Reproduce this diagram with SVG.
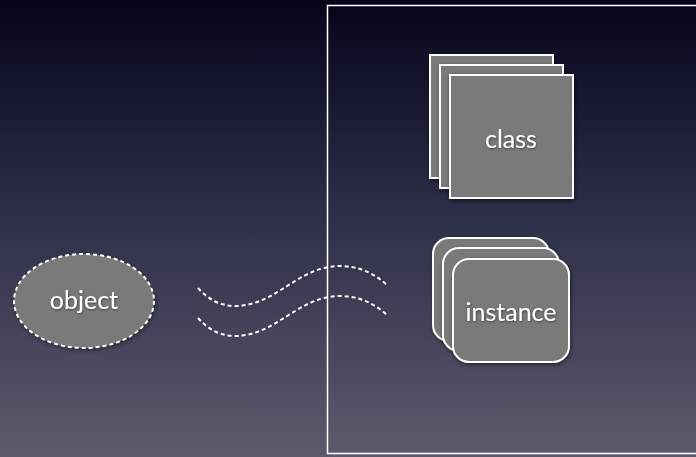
<svg xmlns="http://www.w3.org/2000/svg" width="696" height="457" viewBox="0 0 696 457">
  <defs>
    <linearGradient id="bg" x1="0" y1="0" x2="0" y2="1">
      <stop offset="0" stop-color="#04051a"/>
      <stop offset="0.45" stop-color="#2b2d47"/>
      <stop offset="1" stop-color="#5c5b6d"/>
    </linearGradient>
    <filter id="shadow" x="-20%" y="-20%" width="150%" height="150%">
      <feDropShadow dx="1" dy="2" stdDeviation="2" flood-color="#000" flood-opacity="0.5"/>
    </filter>
    <filter id="tshadow" x="-10%" y="-30%" width="120%" height="160%">
      <feDropShadow dx="0.5" dy="1" stdDeviation="0.8" flood-color="#000" flood-opacity="0.5"/>
    </filter>
  </defs>
  <style>
    .card { fill: #7a7a7a; stroke: #ffffff; stroke-width: 2; filter: url(#shadow); }
    .dash { fill: none; stroke: #ffffff; stroke-width: 2; stroke-dasharray: 4 3; }
    .label { font-family: Lato, "Liberation Sans", sans-serif; font-size: 25px; fill: #ffffff; text-anchor: middle; filter: url(#tshadow); }
  </style>

  <rect x="0" y="0" width="696" height="457" fill="url(#bg)"/>

  <!-- container frame -->
  <rect id="frame" x="327.5" y="5.5" width="372" height="448" fill="none" stroke="#ffffff" stroke-width="1.5"/>

  <!-- class stack -->
  <g id="class">
    <rect class="card" x="430" y="55" width="123" height="123"/>
    <rect class="card" x="440" y="65" width="123" height="123"/>
    <rect class="card" x="450" y="75" width="123" height="123"/>
    <text class="label" x="511" y="148">class</text>
  </g>

  <!-- instance stack -->
  <g id="instance">
    <rect class="card" x="433" y="238" width="116" height="103" rx="16"/>
    <rect class="card" x="443" y="248" width="116" height="103" rx="16"/>
    <rect class="card" x="453" y="259" width="116" height="103" rx="16"/>
    <text class="label" x="511" y="321">instance</text>
  </g>

  <!-- object -->
  <g id="object">
    <ellipse cx="84" cy="301" rx="70" ry="47" fill="#7a7a7a" filter="url(#shadow)"/>
    <ellipse class="dash" cx="84" cy="301" rx="70" ry="47"/>
    <text class="label" x="84" y="309">object</text>
  </g>

  <!-- wavy connectors -->
  <g id="connectors">
    <path class="dash" d="M198,288 Q214,306 235,306 C276,306 298,266 340,266 Q366,266 387,285"/>
    <path class="dash" d="M198,318 Q214,336 235,336 C276,336 298,296 340,296 Q366,296 387,315"/>
  </g>
</svg>
